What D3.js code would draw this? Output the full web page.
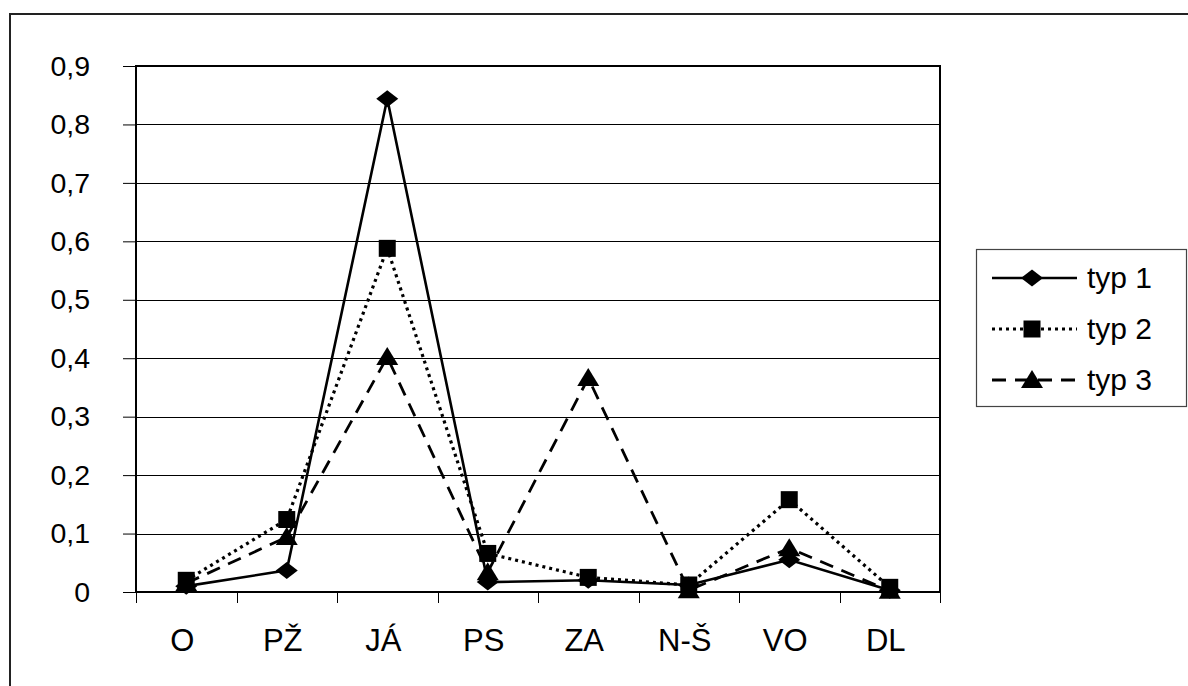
<!DOCTYPE html>
<html><head><meta charset="utf-8">
<script src="https://cdn.jsdelivr.net/npm/d3@7"></script>
<style>html,body{margin:0;padding:0;background:#fff;}svg{display:block;}</style>
</head><body>
<svg id="c" width="1188" height="686"></svg>
<script>
const categories = ["O","PŽ","JÁ","PS","ZA","N-Š","VO","DL"];
const typ1 = [0.010, 0.037, 0.844, 0.017, 0.020, 0.012, 0.055, 0.003];
const typ2 = [0.020, 0.124, 0.588, 0.066, 0.025, 0.012, 0.158, 0.008];
const typ3 = [0.015, 0.094, 0.402, 0.034, 0.366, 0.003, 0.075, 0.002];
const seriesNames = ["typ 1","typ 2","typ 3"];
const yTicks = [0,0.1,0.2,0.3,0.4,0.5,0.6,0.7,0.8,0.9];
const yTickLabels = ["0","0,1","0,2","0,3","0,4","0,5","0,6","0,7","0,8","0,9"];

const svg = d3.select("#c");
const font = "Arial, 'Liberation Sans', sans-serif";
const L = 136, R = 940, T = 66, B = 592;

svg.append("rect").attr("x",10).attr("y",14).attr("width",1250).attr("height",800)
  .attr("fill","none").attr("stroke","#222").attr("stroke-width",2);

const x = d3.scaleBand().domain(categories).range([L,R]);
const y = d3.scaleLinear().domain([0,0.9]).range([B,T]);

svg.append("g").selectAll("line").data(yTicks.slice(1)).join("line")
  .attr("x1",L).attr("x2",R).attr("y1",d=>Math.round(y(d))+0.5).attr("y2",d=>Math.round(y(d))+0.5)
  .attr("stroke","#000").attr("stroke-width",1);

const yAxis = d3.axisLeft(y).tickValues(yTicks).tickSize(13).tickPadding(33)
  .tickFormat((d,i)=>yTickLabels[i]);
const gy = svg.append("g").attr("transform",`translate(${L},0)`).call(yAxis);
gy.select(".domain").remove();
gy.selectAll(".tick line").attr("stroke","#000");
gy.selectAll("text").attr("font-family",font).attr("font-size",28.5).attr("fill","#000");

const bounds = categories.map(c=>x(c)).concat([R]);
svg.append("g").selectAll("line").data(bounds).join("line")
  .attr("x1",d=>Math.round(d)+0.5).attr("x2",d=>Math.round(d)+0.5).attr("y1",B).attr("y2",B+11)
  .attr("stroke","#000");
svg.append("g").selectAll("text").data(categories).join("text")
  .attr("x",d=>x(d)+x.bandwidth()/2-4).attr("y",651).attr("text-anchor","middle")
  .attr("font-family",font).attr("font-size",31).attr("fill","#000").text(d=>d);

svg.append("rect").attr("x",L).attr("y",T).attr("width",R-L).attr("height",B-T)
  .attr("fill","none").attr("stroke","#000").attr("stroke-width",2);

const cx = (d,i)=>x(categories[i])+x.bandwidth()/2;
const line = d3.line().x((d,i)=>cx(d,i)).y(d=>y(d));

const diamond = "M0,-8.5L11,0L0,8.5L-11,0Z";
const square = "M-8.5,-8.5H8.5V8.5H-8.5Z";
const triangle = "M0,-10L11,8L-11,8Z";

const series = [
  {name:seriesNames[0], values:typ1, dash:null, shape:diamond, sw:2.6},
  {name:seriesNames[1], values:typ2, dash:"3,4", shape:square, sw:3.2},
  {name:seriesNames[2], values:typ3, dash:"14,9", shape:triangle, sw:2.8}
];
series.slice().reverse().forEach(s=>{
  svg.append("path").attr("d",line(s.values)).attr("fill","none").attr("stroke","#000")
    .attr("stroke-width",s.sw).attr("stroke-dasharray",s.dash);
});
series.slice().reverse().forEach(s=>{
  svg.append("g").selectAll("path").data(s.values).join("path")
    .attr("transform",(d,i)=>`translate(${cx(d,i)},${y(d)})`)
    .attr("d",s.shape).attr("fill","#000");
});

const lg = svg.append("g");
lg.append("rect").attr("x",976.5).attr("y",249.5).attr("width",210).attr("height",157)
  .attr("fill","#fff").attr("stroke","#444").attr("stroke-width",1.2);
series.forEach((s,i)=>{
  const ly = 278 + i*51;
  lg.append("line").attr("x1",992).attr("x2",1077).attr("y1",ly).attr("y2",ly)
    .attr("stroke","#000").attr("stroke-width",s.sw).attr("stroke-dasharray",s.dash);
  lg.append("path").attr("transform",`translate(1032,${ly})`)
    .attr("d",s.shape).attr("fill","#000");
  lg.append("text").attr("x",1087).attr("y",ly+10).attr("font-family",font)
    .attr("font-size",30).attr("fill","#000").text(s.name);
});
</script>
</body></html>
